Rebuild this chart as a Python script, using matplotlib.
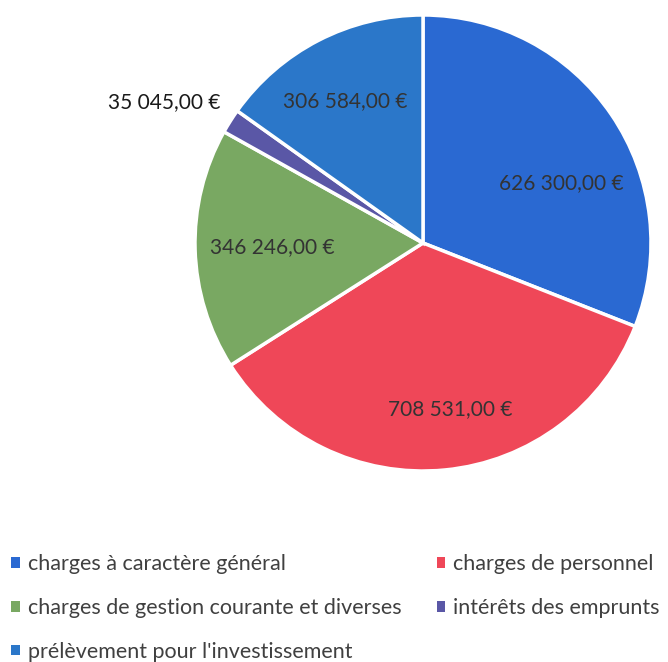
import numpy as np
import matplotlib
matplotlib.use("Agg")
import matplotlib.pyplot as plt
from matplotlib.patches import Patch

# Data
categories = ["charges à caractère général", "charges de personnel",
              "charges de gestion courante et diverses", "intérêts des emprunts",
              "prélèvement pour l'investissement"]
values = [626300, 708531, 346246, 35045, 306584]
value_labels = ["626 300,00 €", "708 531,00 €", "346 246,00 €", "35 045,00 €", "306 584,00 €"]
colors = ["#2a69d2", "#ef4758", "#79a862", "#5a57a6", "#2b77c9"]
text_colors = ["#333333", "#333333", "#333333", "#1a1a1a", "#333333"]

# label placement (fraction of radius, angle shift in degrees)
label_r = [0.66, 0.74, 0.66, 1.29, 0.71]
label_shift = [-10.7, 3.7, 0.0, 3.8, 1.6]

plt.rcParams['font.family'] = ['Lato', 'DejaVu Sans']

W, H = 668, 662
fig = plt.figure(figsize=(W / 100, H / 100), dpi=100)
ax = fig.add_axes([0, 0, 1, 1])

cx, cy, R = 423, H - 243, 228
wedges, _ = ax.pie(values, colors=colors, startangle=90, counterclock=False,
                   center=(cx, cy), radius=R,
                   wedgeprops=dict(edgecolor="white", linewidth=2.5))
ax.set_xlim(0, W)
ax.set_ylim(0, H)
ax.set_aspect("equal")
ax.axis("off")

for w, lab, rf, sh, tc in zip(wedges, value_labels, label_r, label_shift, text_colors):
    mid = np.deg2rad((w.theta1 + w.theta2) / 2 + sh)
    x = cx + rf * R * np.cos(mid)
    y = cy + rf * R * np.sin(mid)
    ax.text(x, y, lab, ha="center", va="center", fontsize=15, color=tc)

# legend, row-wise order as in the reference
order = [0, 2, 4, 1, 3]
handles = [Patch(facecolor=colors[i], edgecolor="none") for i in order]
fig.legend(handles, [categories[i] for i in order], ncol=2,
           loc="upper left", bbox_to_anchor=(-0.012, 0.192), frameon=False,
           fontsize=15.5, labelcolor="#404040", handlelength=0.4, handleheight=0.4,
           handletextpad=0.35, columnspacing=1.65, labelspacing=1.1)

fig.savefig("out.png", dpi=100)
